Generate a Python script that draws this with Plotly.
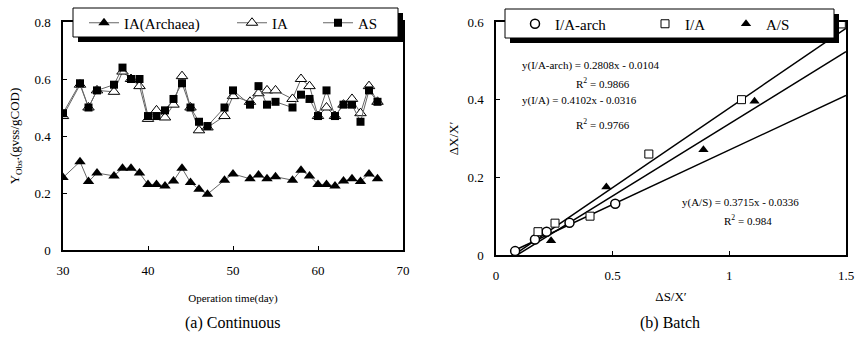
import numpy as np
import plotly.graph_objects as go

# ---------------- data: (a) Continuous ----------------
days = [30, 32, 33, 34, 36, 37, 38, 39, 40, 41, 42, 43, 44, 45, 46, 47, 49, 50,
        52, 53, 54, 55, 57, 58, 59, 60, 61, 62, 63, 64, 65, 66, 67]
ia_archaea = [0.254, 0.31, 0.24, 0.27, 0.26, 0.287, 0.287, 0.27, 0.23, 0.23, 0.225,
              0.242, 0.287, 0.237, 0.213, 0.196, 0.245, 0.267, 0.25, 0.263, 0.25,
              0.257, 0.245, 0.28, 0.26, 0.23, 0.23, 0.225, 0.242, 0.25, 0.24, 0.267, 0.25]
ia = [0.47, 0.58, 0.50, 0.56, 0.555, 0.626, 0.60, 0.575, 0.46, 0.49, 0.465, 0.51,
      0.61, 0.50, 0.42, 0.43, 0.47, 0.54, 0.52, 0.55, 0.56, 0.56, 0.53, 0.60, 0.575,
      0.47, 0.50, 0.47, 0.51, 0.53, 0.48, 0.575, 0.52]
as_ = [0.48, 0.585, 0.50, 0.56, 0.58, 0.64, 0.60, 0.60, 0.47, 0.47, 0.49, 0.53,
       0.585, 0.50, 0.45, 0.435, 0.50, 0.56, 0.51, 0.575, 0.51, 0.52, 0.50, 0.545,
       0.53, 0.47, 0.56, 0.47, 0.51, 0.51, 0.45, 0.56, 0.52]

# ---------------- data: (b) Batch ----------------
arch_x = [0.082, 0.167, 0.217, 0.315, 0.511]
arch_y = [0.010, 0.040, 0.060, 0.083, 0.132]
ia_x = [0.18, 0.253, 0.403, 0.655, 1.052, 1.48]
ia_y = [0.060, 0.082, 0.100, 0.260, 0.400, 0.595]
as_x = [0.236, 0.473, 0.889, 1.108]
as_y = [0.037, 0.175, 0.271, 0.396]

fit_names = ["I/A-arch", "I/A", "A/S"]
fit_slopes = [0.2808, 0.4102, 0.3715]
fit_intercepts = [-0.0104, -0.0316, -0.0336]
fit_r2 = ["0.9866", "0.9766", "0.984"]
fit_x_range = [0.085, 1.5]

W, H = 857, 340
FONT = "Liberation Serif, Times New Roman, serif"


def px(x):
    return x / W


def py(y):
    return 1 - y / H


fig = go.Figure()

# left chart traces
line_style = dict(color="#666666", width=1)
fig.add_trace(go.Scatter(x=days, y=ia_archaea, name="IA(Archaea)", mode="lines+markers",
                         line=line_style,
                         marker=dict(symbol="triangle-up", size=10, color="black"),
                         xaxis="x", yaxis="y", legend="legend"))
fig.add_trace(go.Scatter(x=days, y=ia, name="IA", mode="lines+markers",
                         line=line_style,
                         marker=dict(symbol="triangle-up", size=10, color="white",
                                     line=dict(color="black", width=1)),
                         xaxis="x", yaxis="y", legend="legend2"))
fig.add_trace(go.Scatter(x=days, y=as_, name="AS", mode="lines+markers",
                         line=line_style,
                         marker=dict(symbol="square", size=8, color="black"),
                         xaxis="x", yaxis="y", legend="legend3"))

# right chart: regression lines
xf = np.array(fit_x_range)
for name, k, b in zip(fit_names, fit_slopes, fit_intercepts):
    fig.add_trace(go.Scatter(x=xf, y=k * xf + b, mode="lines", showlegend=False,
                             line=dict(color="black", width=1.5),
                             xaxis="x2", yaxis="y2", hoverinfo="skip"))

fig.add_trace(go.Scatter(x=arch_x, y=arch_y, name="I/A-arch", mode="markers",
                         marker=dict(symbol="circle", size=9, color="white",
                                     line=dict(color="black", width=1.5)),
                         xaxis="x2", yaxis="y2", legend="legend4"))
fig.add_trace(go.Scatter(x=ia_x, y=ia_y, name="I/A", mode="markers",
                         marker=dict(symbol="square", size=8, color="white",
                                     line=dict(color="black", width=1)),
                         xaxis="x2", yaxis="y2", legend="legend5"))
fig.add_trace(go.Scatter(x=as_x, y=as_y, name="A/S", mode="markers",
                         marker=dict(symbol="triangle-up", size=9, color="black"),
                         xaxis="x2", yaxis="y2", legend="legend6"))

axis_common = dict(showline=True, mirror=True, linecolor="black", linewidth=1.5,
                   ticks="inside", ticklen=4, tickcolor="black", tickwidth=1,
                   showgrid=False, zeroline=False, automargin=False,
                   tickfont=dict(family=FONT, size=13, color="black"),
                   ticklabelstandoff=8)

fig.update_layout(
    width=W, height=H, margin=dict(l=0, r=0, t=0, b=0, autoexpand=False),
    paper_bgcolor="white", plot_bgcolor="white",
    font=dict(family=FONT, color="black"),
    xaxis=dict(domain=[px(63), px(403)], range=[30, 70], dtick=10, anchor="y",
               title=dict(text="Operation time(day)", font=dict(family=FONT, size=11), standoff=17),
               **axis_common),
    yaxis=dict(domain=[py(250), py(22)], range=[0, 0.8], dtick=0.2, anchor="x",
               title=dict(text="Y<sub>Obs</sub>.(gvss/gCOD)", font=dict(family=FONT, size=13), standoff=12),
               **axis_common),
    xaxis2=dict(domain=[px(496), px(846)], range=[0, 1.5], dtick=0.5, anchor="y2",
                title=dict(text="ΔS/X′", font=dict(family=FONT, size=13), standoff=10),
                **axis_common),
    yaxis2=dict(domain=[py(255), py(22)], range=[0, 0.6], dtick=0.2, anchor="x2",
                title=dict(text="ΔX/X′", font=dict(family=FONT, size=13), standoff=6),
                **axis_common),
)

# legend boxes with shadow (drawn as shapes, legend text sits on top)
shapes = []
for (x0, y0, x1, y1) in [(73, 8, 398, 37), (505, 9, 834, 38)]:
    shapes.append(dict(type="rect", xref="paper", yref="paper",
                       x0=px(x0 + 5), x1=px(x1 + 5), y0=py(y0 + 5), y1=py(y1 + 5),
                       fillcolor="black", line=dict(width=0), layer="above"))
    shapes.append(dict(type="rect", xref="paper", yref="paper",
                       x0=px(x0), x1=px(x1), y0=py(y0), y1=py(y1),
                       fillcolor="white", line=dict(color="black", width=1), layer="above"))
fig.update_layout(shapes=shapes)

leg_common = dict(bgcolor="rgba(0,0,0,0)", borderwidth=0, itemwidth=30,
                  font=dict(family=FONT, size=15, color="black"),
                  xanchor="left", yanchor="middle", orientation="h")
fig.update_layout(
    legend=dict(x=px(84), y=py(23), **leg_common),
    legend2=dict(x=px(232), y=py(23), **leg_common),
    legend3=dict(x=px(318), y=py(23), **leg_common),
    legend4=dict(x=px(515), y=py(24), **leg_common),
    legend5=dict(x=px(645), y=py(24), **leg_common),
    legend6=dict(x=px(726), y=py(24), **leg_common),
)

# equation annotations
ann = []
eq_pos = [(520, 65, 603, 83), (520, 100, 603, 124), (680, 202, 748, 220)]
for name, k, b, r2, (ex, ey, rx, ry) in zip(fit_names, fit_slopes, fit_intercepts, fit_r2, eq_pos):
    sign = "-" if b < 0 else "+"
    ann.append(dict(text=f"y({name}) = {k:.4f}x {sign} {abs(b):.4f}", xref="paper", yref="paper",
                    x=px(ex), y=py(ey), xanchor="left", yanchor="middle", showarrow=False,
                    font=dict(family=FONT, size=11)))
    ann.append(dict(text=f"R<sup>2</sup> = {r2}", xref="paper", yref="paper",
                    x=px(rx), y=py(ry), xanchor="center", yanchor="middle", showarrow=False,
                    font=dict(family=FONT, size=11)))
ann.append(dict(text="(a) Continuous", xref="paper", yref="paper", x=px(233), y=py(323),
                xanchor="center", yanchor="middle", showarrow=False, font=dict(family=FONT, size=16)))
ann.append(dict(text="(b) Batch", xref="paper", yref="paper", x=px(670), y=py(323),
                xanchor="center", yanchor="middle", showarrow=False, font=dict(family=FONT, size=16)))
fig.update_layout(annotations=ann)

fig.write_html("out.html", config={"displayModeBar": False},
               post_script="document.body.style.margin='0';document.body.style.overflow='hidden';")
